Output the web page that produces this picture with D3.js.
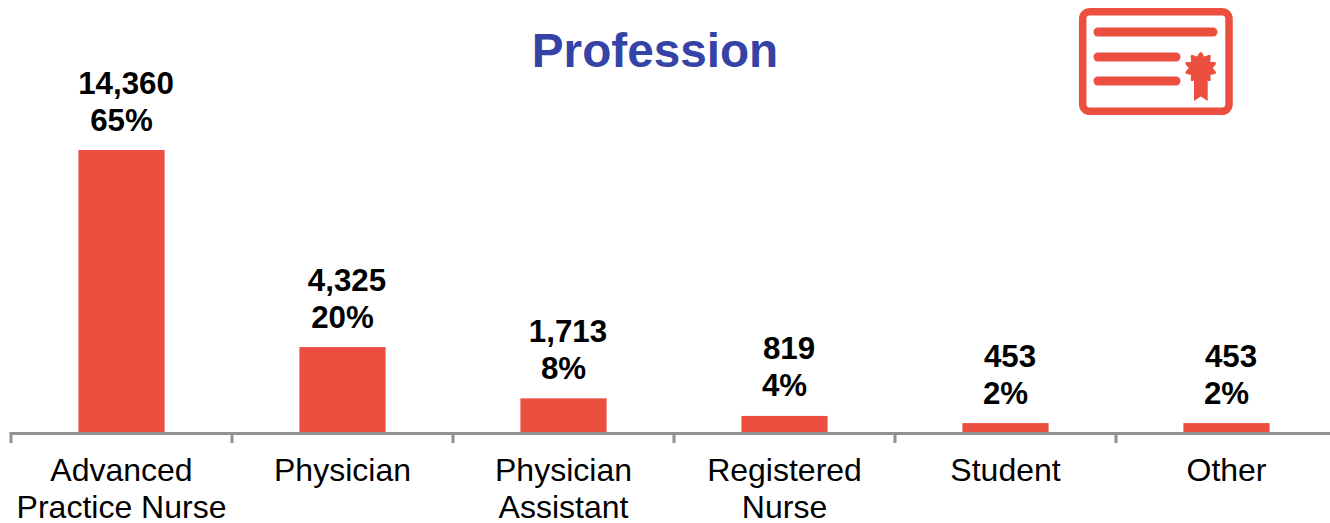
<!DOCTYPE html>
<html>
<head>
<meta charset="utf-8">
<script src="https://cdnjs.cloudflare.com/ajax/libs/d3/7.8.5/d3.min.js"></script>
<style>
  html, body { margin: 0; padding: 0; background: #fff; }
  svg { display: block; font-family: "Liberation Sans", Arial, sans-serif; }
</style>
</head>
<body>
<svg id="chart" width="1330" height="523"></svg>
<script>
const professions = ["Advanced Practice Nurse", "Physician", "Physician Assistant", "Registered Nurse", "Student", "Other"];
const categoryLines = [["Advanced", "Practice Nurse"], ["Physician"], ["Physician", "Assistant"], ["Registered", "Nurse"], ["Student"], ["Other"]];
const counts = [14360, 4325, 1713, 819, 453, 453];
const shares = ["65%", "20%", "8%", "4%", "2%", "2%"];

const RED = "#EC4F3F";
const svg = d3.select("#chart");

const x = d3.scaleBand().domain(professions).range([11, 1337]).paddingInner(0.61).paddingOuter(0.305);
const y = d3.scaleLinear().domain([0, 14360]).range([432, 150]);

// Bars
svg.selectAll("rect.bar").data(professions).join("rect")
  .attr("class", "bar")
  .attr("x", d => x(d))
  .attr("width", x.bandwidth())
  .attr("y", (d, i) => y(counts[i]))
  .attr("height", (d, i) => y(0) - y(counts[i]))
  .attr("fill", RED);

// Category axis with ticks on the band boundaries
const step = x.step();
const edges = d3.range(professions.length + 1).map(i => 11 + i * step);
const axis = svg.append("g").attr("stroke", "#919191").attr("stroke-width", 3);
axis.append("line").attr("x1", 10).attr("x2", 1337).attr("y1", y(0) + 1.5).attr("y2", y(0) + 1.5);
axis.selectAll("line.tick").data(edges).join("line")
  .attr("class", "tick")
  .attr("x1", d => d).attr("x2", d => d)
  .attr("y1", y(0)).attr("y2", y(0) + 11);

// Category labels
const cats = svg.selectAll("text.cat").data(professions).join("text")
  .attr("class", "cat")
  .attr("text-anchor", "middle")
  .attr("font-size", 32)
  .attr("fill", "#000");
cats.each(function (d, i) {
  d3.select(this).selectAll("tspan").data(categoryLines[i]).join("tspan")
    .attr("x", x(d) + x.bandwidth() / 2)
    .attr("y", (t, j) => 481 + j * 36.5)
    .text(t => t);
});

// Count and share above each bar
const labels = svg.selectAll("g.value").data(professions).join("g")
  .attr("class", "value")
  .attr("font-size", 31.3)
  .attr("font-weight", "bold")
  .attr("text-anchor", "middle")
  .attr("fill", "#000");
labels.append("text")
  .attr("x", d => x(d) + x.bandwidth() / 2 + 4.5)
  .attr("y", (d, i) => y(counts[i]) - 56.5)
  .text((d, i) => d3.format(",")(counts[i]));
labels.append("text")
  .attr("x", d => x(d) + x.bandwidth() / 2)
  .attr("y", (d, i) => y(counts[i]) - 19.5)
  .text((d, i) => shares[i]);

// Title
svg.append("text")
  .attr("x", 655).attr("y", 66.5)
  .attr("text-anchor", "middle")
  .attr("font-size", 47.7)
  .attr("font-weight", "bold")
  .attr("fill", "#3443A5")
  .text("Profession");

// Certificate icon
const icon = svg.append("g").attr("fill", "none").attr("stroke", RED).attr("stroke-linecap", "round");
icon.append("rect").attr("x", 1082.7).attr("y", 11.7).attr("width", 146.3).attr("height", 99.6).attr("rx", 7)
  .attr("stroke-width", 7.5);
[[1098, 1213, 32], [1098, 1176, 57], [1098, 1176, 81]].forEach(([a, b, h]) => {
  icon.append("line").attr("x1", a).attr("x2", b).attr("y1", h).attr("y2", h).attr("stroke-width", 9);
});
const seal = d3.range(20).map(i => {
  const r = i % 2 ? 10 : 14.5;
  const t = -Math.PI / 2 + i * Math.PI / 10;
  return [r * Math.cos(t), r * Math.sin(t)];
});
svg.append("path")
  .attr("transform", "translate(1200.7,68)")
  .attr("d", d3.line().curve(d3.curveLinearClosed)(seal))
  .attr("fill", RED).attr("stroke", RED).attr("stroke-width", 3).attr("stroke-linejoin", "round");
svg.append("path")
  .attr("d", "M1194 74H1207.7V101L1200.8 96.5L1194 101Z")
  .attr("fill", RED);
</script>
</body>
</html>
